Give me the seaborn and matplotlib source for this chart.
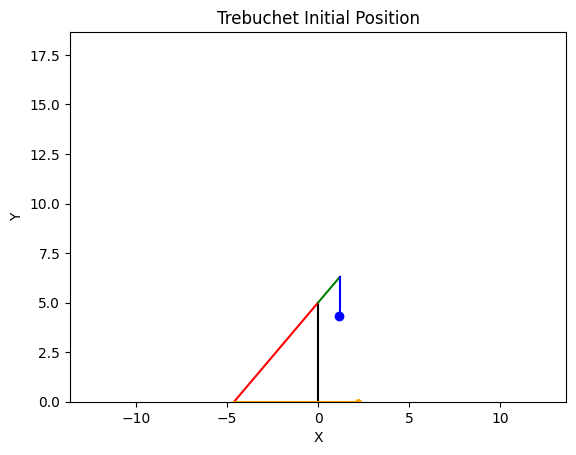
import matplotlib
matplotlib.use('Agg')
import matplotlib.pyplot as plt
import seaborn as sns
import pandas as pd

# trebuchet parts
tower_x = [0, 0]
tower_y = [0, 5]
long_arm_x = [-4.6, 0]
long_arm_y = [0, 5]
short_arm_x = [0, 1.2]
short_arm_y = [5, 6.3]
sling_x = [1.2, 1.2]
sling_y = [6.3, 4.35]
ground_x = [-4.6, 2.2]
ground_y = [0, 0]
weight_x = [1.15]
weight_y = [4.35]
proj_x = [2.2]
proj_y = [0]

fig, ax = plt.subplots(figsize=(6.4, 4.8))


def draw(xs, ys, color):
    df = pd.DataFrame({'x': xs, 'y': ys})
    sns.lineplot(data=df, x='x', y='y', color=color, sort=False, estimator=None, ax=ax)


draw(tower_x, tower_y, 'black')
draw(long_arm_x, long_arm_y, 'red')
draw(short_arm_x, short_arm_y, 'green')
draw(sling_x, sling_y, 'blue')
draw(ground_x, ground_y, 'orange')
ax.plot(weight_x, weight_y, 'o', color='blue')
ax.plot(proj_x, proj_y, 'o', color='orange', markersize=4)

ax.set_xlim(-13.6, 13.6)
ax.set_ylim(0, 18.65)
ax.set_xlabel('X')
ax.set_ylabel('Y')
ax.set_title('Trebuchet Initial Position')

fig.savefig('out.png', dpi=100, bbox_inches='tight')
